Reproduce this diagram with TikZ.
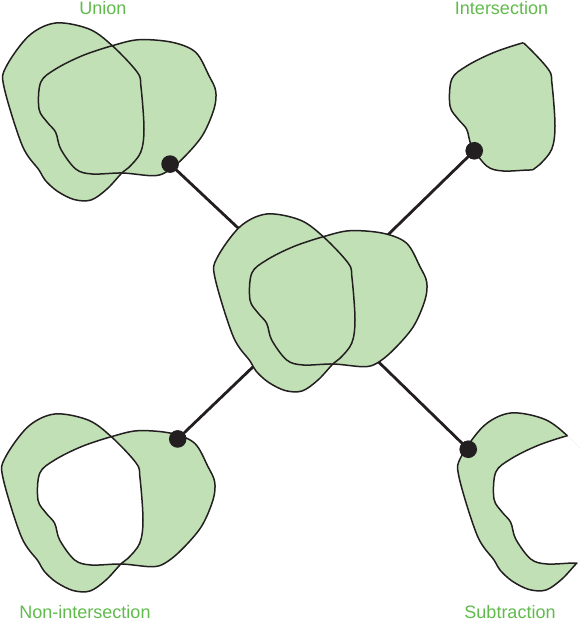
\documentclass[tikz,border=0pt]{standalone}
\usepackage{fontspec}
\setmainfont{Liberation Sans}
\definecolor{blobfill}{RGB}{193,224,181}
\definecolor{labgreen}{RGB}{96,187,76}
\definecolor{ink}{RGB}{35,31,32}
\def\pathA{plot[smooth cycle, tension=0.55] coordinates {(266.7,214) (300,220) (323.3,236.7) (348.3,263.3) (352,278) (355,320) (351.7,343.3) (340,358.3) (333.3,363.5) (318,380) (302,391) (285,390.5) (268,382) (256,371) (250,361) (233.3,336.7) (215,278) (217,258) (240,226.7)}}
\def\pathB{plot[smooth cycle, tension=0.55] coordinates {(323.3,236.7) (350,230.7) (383.3,233.3) (406.7,243.3) (420,266.7) (426.7,282) (425,300) (413.3,326.7) (393.3,350) (376.7,363.3) (363.3,366.7) (333.3,364) (303.3,365) (286.7,360) (271.7,340) (266.7,323.3) (258.3,313.3) (250,300) (251.7,273.3) (266.7,260) (293.3,246.7)}}
\tikzset{
  outline/.style={draw=ink, line width=1.5pt},
  blob/.style={fill=blobfill},
  connector/.style={draw=ink, line width=2.8pt},
  dot/.style={circle, fill=ink, inner sep=0pt, minimum size=17.5pt},
  lab/.style={text=labgreen, font=\fontsize{18}{20}\selectfont, inner sep=0pt}
}
\begin{document}
\begin{tikzpicture}[x=1pt, y=-1pt]
\useasboundingbox (0,0) rectangle (580,621);
% connector ends inside centre
\coordinate (cUL) at (270,258);
\coordinate (cUR) at (360,262);
\coordinate (cLL) at (280,341);
\coordinate (cLR) at (355,339);
\node[dot] (dU) at (170,164) {};
\node[dot] (dI) at (474.3,150.7) {};
\node[dot] (dN) at (177.7,439) {};
\node[dot] (dS) at (468.3,449.3) {};
\draw[connector] (dU.center) -- (cUL);
\draw[connector] (dI.center) -- (cUR);
\draw[connector] (dN.center) -- (cLL);
\draw[connector] (dS.center) -- (cLR);
% centre
\fill[blob] \pathA;
\fill[blob] \pathB;
\draw[outline] \pathA;
\draw[outline] \pathB;
% union
\begin{scope}[shift={(-211,-191)}]
\fill[blob] \pathA;
\fill[blob] \pathB;
\draw[outline] \pathA;
\draw[outline] \pathB;
\end{scope}
% non-intersection
\begin{scope}[shift={(-212,200)}]
\fill[blob, even odd rule] \pathA \pathB;
\draw[outline] \pathA;
\draw[outline] \pathB;
\end{scope}
% intersection
\begin{scope}[shift={(200,-194)}]
\begin{scope}
\clip \pathA;
\fill[blob] \pathB;
\draw[outline] \pathB;
\end{scope}
\begin{scope}
\clip \pathB;
\draw[outline] \pathA;
\end{scope}
\end{scope}
% subtraction
\begin{scope}[shift={(244,199)}]
\begin{scope}
\clip \pathA;
\fill[blob, even odd rule] \pathA \pathB;
\draw[outline] \pathB;
\end{scope}
\begin{scope}[even odd rule]
\clip (-400,-400) rectangle (900,900) \pathB;
\draw[outline] \pathA;
\end{scope}
\end{scope}
% dots on top
\node[dot] at (dU) {};
\node[dot] at (dI) {};
\node[dot] at (dN) {};
\node[dot] at (dS) {};
% labels
\node[lab] (lU) at (103,8) {Union};
\node[lab] (lI) at (501.5,8) {Intersection};
\node[lab] (lN) at (85,612) {Non-intersection};
\node[lab] (lS) at (510,612) {Subtraction};
\end{tikzpicture}
\end{document}
